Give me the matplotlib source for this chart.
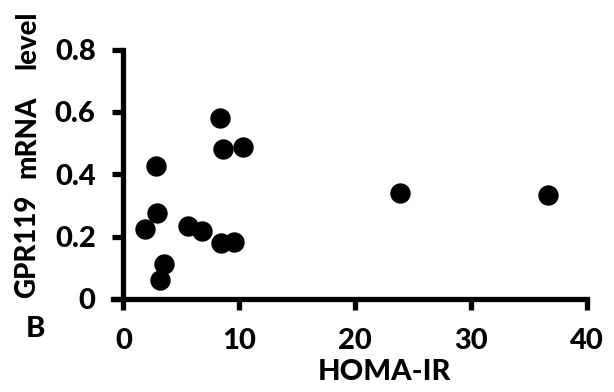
import numpy as np
import matplotlib
matplotlib.use("Agg")
import matplotlib.pyplot as plt

plt.rcParams['font.family'] = ['Lato', 'DejaVu Sans']
plt.rcParams['font.weight'] = 'black'

# HOMA-IR vs GPR119 mRNA level
homa_ir = [1.9, 2.78, 2.92, 3.53, 3.16, 5.6, 6.75, 8.35, 8.55, 10.31, 8.45, 9.5, 23.88, 36.61]
gpr119 = [0.224, 0.427, 0.277, 0.113, 0.059, 0.235, 0.217, 0.581, 0.481, 0.489, 0.18, 0.183, 0.34, 0.332]
xticks = [0, 10, 20, 30, 40]
yticks = [0, 0.2, 0.4, 0.6, 0.8]
ytick_labels = ['0', '0.2', '0.4', '0.6', '0.8']

W, H = 614, 392
fig = plt.figure(figsize=(6.14, 3.92), dpi=100)
ax = fig.add_axes([113 / W, 1 - 298.8 / H, 474 / W, 249.1 / H])

ax.scatter(homa_ir, gpr119, s=215, color='black', linewidths=0, zorder=3, clip_on=False)

ax.set_xlim(-0.9, 40)
ax.set_ylim(0, 0.8)
ax.spines['left'].set_position(('data', 0))
ax.spines['top'].set_visible(False)
ax.spines['right'].set_visible(False)
for s in ['left', 'bottom']:
    ax.spines[s].set_linewidth(3.8)

ax.set_xticks(xticks)
ax.set_yticks(yticks)
ax.set_yticklabels(ytick_labels)
ax.tick_params(axis='both', direction='out', length=8, width=3.8, labelsize=21)
ax.tick_params(axis='x', pad=13)
ax.tick_params(axis='y', pad=12)
for lab in ax.get_xticklabels() + ax.get_yticklabels():
    lab.set_fontweight('black')

fig.text(384 / W, 1 - 372 / H, 'HOMA-IR', ha='center', va='center', fontsize=21, fontweight='black')
# y label words, spread out like the original
for word, yc in [('GPR119', 246), ('mRNA', 137), ('level', 40)]:
    fig.text(27.5 / W, 1 - yc / H, word, ha='center', va='center',
             rotation=90, fontsize=20, fontweight='black')
fig.text(35 / W, 1 - 329 / H, 'B', ha='center', va='center', fontsize=21, fontweight='black')

plt.savefig('out.png', dpi=100)
